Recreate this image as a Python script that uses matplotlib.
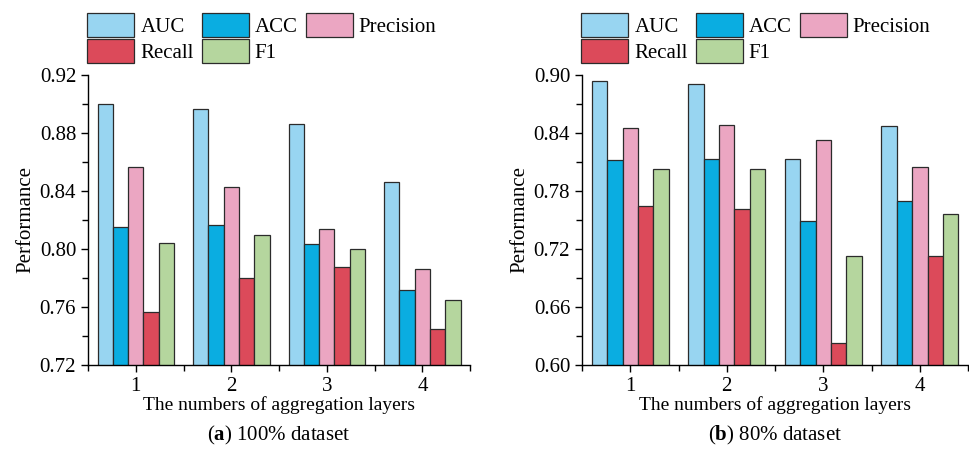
import matplotlib.pyplot as plt
import numpy as np
from matplotlib.ticker import MultipleLocator

plt.rcParams['font.family'] = ['Liberation Serif', 'DejaVu Serif']
plt.rcParams['mathtext.fontset'] = 'custom'
plt.rcParams['mathtext.rm'] = 'Liberation Serif'
plt.rcParams['mathtext.bf'] = 'Liberation Serif:bold'

# Data
layers = [1, 2, 3, 4]
metrics = ['AUC', 'ACC', 'Precision', 'Recall', 'F1']
colors = ['#98D5F1', '#0AADE1', '#EBA6C2', '#DC4A5A', '#B5D69E']

full_auc = [0.900, 0.8966, 0.886, 0.8464]
full_acc = [0.8154, 0.8168, 0.8037, 0.7715]
full_prec = [0.8568, 0.8425, 0.8136, 0.7864]
full_rec = [0.7568, 0.7798, 0.7874, 0.7451]
full_f1 = [0.8039, 0.8099, 0.8002, 0.7651]

part_auc = [0.8934, 0.8910, 0.8128, 0.8472]
part_acc = [0.8124, 0.8128, 0.7490, 0.7700]
part_prec = [0.8455, 0.8479, 0.8328, 0.8052]
part_rec = [0.7641, 0.7614, 0.6231, 0.7128]
part_f1 = [0.8031, 0.8028, 0.7128, 0.7559]

panels = [
    ([full_auc, full_acc, full_prec, full_rec, full_f1], (0.72, 0.92), 0.04, 'a', '100% dataset'),
    ([part_auc, part_acc, part_prec, part_rec, part_f1], (0.60, 0.90), 0.06, 'b', '80% dataset'),
]

fig = plt.figure(figsize=(9.7, 4.55), dpi=100)
axes = [fig.add_axes([0.0907, 0.198, 0.394, 0.637]),
        fig.add_axes([0.600, 0.198, 0.398, 0.637])]

width = 0.16
x = np.array(layers, dtype=float)
for ax, (series, ylim, step, tag, caption) in zip(axes, panels):
    bars = []
    for i, (vals, name, c) in enumerate(zip(series, metrics, colors)):
        b = ax.bar(x + (i - 2) * width, vals, width, color=c, edgecolor='#2b2b2b',
                   linewidth=0.9, label=name, zorder=2)
        bars.append(b)
    ax.set_xlim(0.5, 4.5)
    ax.set_ylim(*ylim)
    ax.yaxis.set_major_locator(MultipleLocator(step))
    ax.yaxis.set_minor_locator(MultipleLocator(step / 2))
    ax.set_yticks(np.arange(ylim[0], ylim[1] + step / 2, step))
    ax.yaxis.set_major_formatter(plt.FormatStrFormatter('%.2f'))
    ax.set_xticks(layers)
    ax.set_xticks([0.5, 1.5, 2.5, 3.5, 4.5], minor=True)
    ax.tick_params(axis='both', which='major', direction='out', length=5,
                   width=1, labelsize=15)
    ax.tick_params(axis='both', which='minor', direction='out', length=4, width=1)
    for s in ['top', 'right']:
        ax.spines[s].set_visible(False)
    for s in ['left', 'bottom']:
        ax.spines[s].set_linewidth(1)
    ax.set_ylabel('Performance', fontsize=15, labelpad=3)
    ax.set_xlabel('The numbers of aggregation layers', fontsize=14, labelpad=0)
    # row-wise legend: AUC ACC Precision / Recall F1
    order = [0, 3, 1, 4, 2]
    ax.legend([bars[k] for k in order], [metrics[k] for k in order],
              loc='lower left', bbox_to_anchor=(-0.002, 1.04), ncol=3, frameon=False,
              fontsize=15, handlelength=2.26, handleheight=1.4, columnspacing=0.38,
              handletextpad=0.29, labelspacing=0.1, borderpad=0, borderaxespad=0)
    pos = ax.get_position()
    fig.text(pos.x0 + pos.width / 2, 0.043, '(' + r'$\mathbf{' + tag + '}$' + ') ' + caption,
             ha='center', va='center', fontsize=15)

fig.savefig('out.png', dpi=100)
